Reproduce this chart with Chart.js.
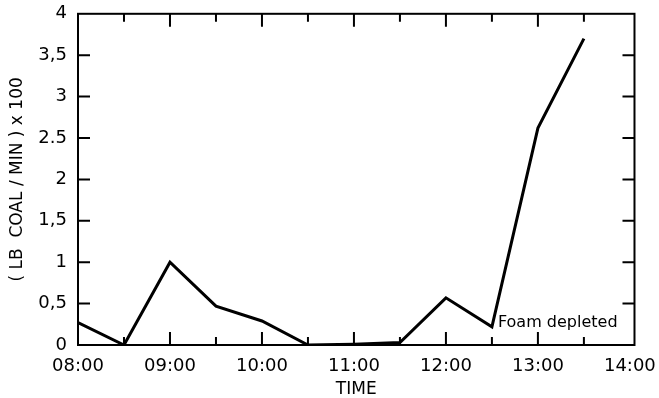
<!DOCTYPE html>
<html lang="en">
<head>
    <meta charset="UTF-8">
    <title>Coal rate over time</title>
    <script src="https://cdn.jsdelivr.net/npm/chart.js"></script>
    <style>
        html, body { margin: 0; padding: 0; background: #fff; }
        #wrap { width: 659px; height: 398px; }
    </style>
</head>
<body>
    <div id="wrap"><canvas id="coalChart" width="659" height="398"></canvas></div>

    <script>
        // Sample times and measured rate (lb coal/min x 100)
        const sampleTimes = ['08:00', '08:30', '09:00', '09:30', '10:00', '10:30',
                             '11:00', '11:30', '12:00', '12:30', '13:00', '13:30'];
        const coalRate = [0.27, 0, 1.0, 0.47, 0.29, 0, 0.01, 0.03, 0.57, 0.22, 2.62, 3.70];

        // Axis labels
        const xTickLabels = ['08:00', '09:00', '10:00', '11:00', '12:00', '13:00', '14:00'];
        const yTickLabels = ['0', '0,5', '1', '1,5', '2', '2.5', '3', '3,5', '4'];
        const xTitle = 'TIME';
        const yTitle = '( LB  COAL / MIN ) x 100';
        const noteText = 'Foam depleted';
        const noteIndex = 9;

        const FONT = 'DejaVu Sans';

        // minutes after 08:00
        const toMinutes = t => {
            const [h, m] = t.split(':').map(Number);
            return (h - 8) * 60 + m;
        };
        const points = sampleTimes.map((t, i) => ({ x: toMinutes(t), y: coalRate[i] }));
        const halfHours = [];
        for (let i = 0; i < xTickLabels.length * 2 - 1; i++) halfHours.push(i * 30);

        // frame + inward tick marks
        const framePlugin = {
            id: 'frame',
            afterDraw(chart) {
                const { ctx, chartArea: a, scales } = chart;
                ctx.save();
                ctx.strokeStyle = '#000';
                ctx.lineWidth = 2;
                ctx.strokeRect(a.left, a.top, a.right - a.left, a.bottom - a.top);
                ctx.beginPath();
                scales.x.ticks.forEach(t => {
                    if (t.value === 0 || t.value === 360) return;
                    const x = scales.x.getPixelForValue(t.value);
                    const len = t.value % 60 === 0 ? 13 : 8;
                    ctx.moveTo(x, a.bottom); ctx.lineTo(x, a.bottom - len);
                    ctx.moveTo(x, a.top); ctx.lineTo(x, a.top + len);
                });
                scales.y.ticks.forEach(t => {
                    if (t.value === 0 || t.value === 4) return;
                    const y = scales.y.getPixelForValue(t.value);
                    ctx.moveTo(a.left, y); ctx.lineTo(a.left + 12, y);
                    ctx.moveTo(a.right, y); ctx.lineTo(a.right - 12, y);
                });
                ctx.stroke();
                ctx.restore();
            },
            afterDatasetsDraw(chart) {
                const pt = chart.getDatasetMeta(0).data[noteIndex];
                const ctx = chart.ctx;
                ctx.save();
                ctx.fillStyle = '#000';
                ctx.font = '16px "' + FONT + '"';
                ctx.textAlign = 'left';
                ctx.textBaseline = 'middle';
                ctx.fillText(noteText, pt.x + 6, pt.y - 4);
                ctx.restore();
            }
        };

        const ctx = document.getElementById('coalChart').getContext('2d');
        const coalChart = new Chart(ctx, {
            type: 'line',
            data: {
                datasets: [{
                    data: points,
                    borderColor: '#000',
                    borderWidth: 3,
                    pointRadius: 0,
                    tension: 0,
                    fill: false
                }]
            },
            options: {
                responsive: false,
                animation: false,
                layout: { padding: { top: 6, right: 21, left: 0, bottom: 0 } },
                plugins: {
                    legend: { display: false },
                    tooltip: { enabled: false }
                },
                scales: {
                    x: {
                        type: 'linear',
                        min: 0,
                        max: 363,
                        afterBuildTicks: scale => {
                            scale.ticks = halfHours.map(v => ({ value: v }));
                        },
                        afterFit: scale => { scale.height = 53; },
                        grid: { display: false },
                        border: { display: false },
                        ticks: {
                            autoSkip: false,
                            maxRotation: 0,
                            padding: 3,
                            color: '#000',
                            font: { family: FONT, size: 18 },
                            callback: value => value % 60 === 0 ? xTickLabels[value / 60] : ''
                        },
                        title: {
                            display: true,
                            text: xTitle,
                            color: '#000',
                            font: { family: FONT, size: 17, lineHeight: 1 },
                            padding: { top: 0, bottom: 0 }
                        }
                    },
                    y: {
                        min: 0,
                        max: 4,
                        afterFit: scale => { scale.width = 78; },
                        grid: { display: false },
                        border: { display: false },
                        ticks: {
                            stepSize: 0.5,
                            padding: 3,
                            color: '#000',
                            font: { family: FONT, size: 18 },
                            callback: (value, index) => yTickLabels[index]
                        },
                        title: {
                            display: true,
                            text: yTitle,
                            color: '#000',
                            font: { family: FONT, size: 17, lineHeight: 1 },
                            padding: { top: 9, bottom: 0 }
                        }
                    }
                }
            },
            plugins: [framePlugin]
        });
    </script>
</body>
</html>
